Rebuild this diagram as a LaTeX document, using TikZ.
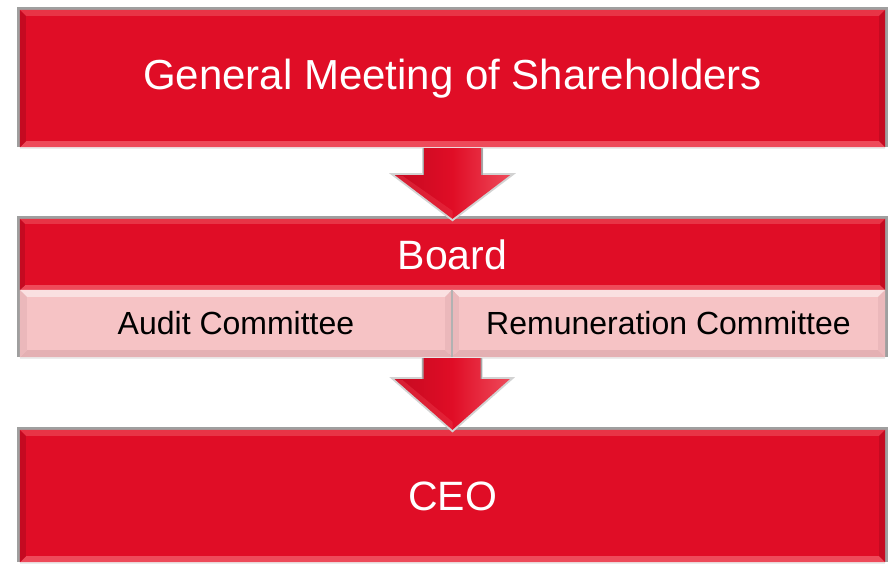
\documentclass[tikz,border=0pt]{standalone}
\usepackage{fontspec}
\setmainfont{Liberation Sans}
\usetikzlibrary{calc}
\definecolor{redM}{HTML}{E00D26}
\definecolor{redT}{HTML}{E83446}
\definecolor{redB}{HTML}{EE4A5A}
\definecolor{redS}{HTML}{C50A21}
\definecolor{pinkM}{HTML}{F6C3C5}
\definecolor{pinkT}{HTML}{FAE0E1}
\definecolor{pinkB}{HTML}{E4B0B3}
\definecolor{pinkS}{HTML}{EBB8BB}
\tikzset{
  redbox/.style={fill=redM, inner sep=0pt, text=white, font=\fontsize{42}{48}\selectfont},
  pinkbox/.style={fill=pinkM, inner sep=0pt, text=black, font=\fontsize{32}{38}\selectfont},
  frame/.style={draw=gray!75, line width=3pt},
  arrowglow/.style={draw=gray!35, line width=4pt, line join=miter},
}
% bevel: name, width, top, bottom, side
\newcommand\rsBevel[5]{%
  \fill[#3] (#1.north west) -- (#1.north east) -- ($(#1.north east)+(-#2,-#2)$) -- ($(#1.north west)+(#2,-#2)$) -- cycle;
  \fill[#4] (#1.south west) -- (#1.south east) -- ($(#1.south east)+(-#2,#2)$) -- ($(#1.south west)+(#2,#2)$) -- cycle;
  \fill[#5] (#1.north west) -- ($(#1.north west)+(#2,-#2)$) -- ($(#1.south west)+(#2,#2)$) -- (#1.south west) -- cycle;
  \fill[#5] (#1.north east) -- ($(#1.north east)+(-#2,-#2)$) -- ($(#1.south east)+(-#2,#2)$) -- (#1.south east) -- cycle;
}
\newcommand\rsFrame[1]{%
  \draw[frame] ($(#1.south west)+(-1.5pt,0pt)$) -- ($(#1.north west)+(-1.5pt,1.5pt)$) -- ($(#1.north east)+(1.5pt,1.5pt)$) -- ($(#1.south east)+(1.5pt,0pt)$);
  \draw[gray!15, line width=2pt] ($(#1.south west)+(0pt,-1pt)$) -- ($(#1.south east)+(0pt,-1pt)$);
}
% arrow from coordinate (top centre) to coordinate (tip)
\newcommand\rsArrow[3]{% top, tip, head start offset below top
  \path let \p1=(#1), \p2=(#2) in
    coordinate (s1) at (\x1-28.5pt,\y1) coordinate (s2) at (\x1+28.5pt,\y1)
    coordinate (h1) at (\x1-28.5pt,\y1-#3) coordinate (h2) at (\x1+28.5pt,\y1-#3)
    coordinate (w1) at (\x1-57.5pt,\y1-#3) coordinate (w2) at (\x1+57.5pt,\y1-#3)
    coordinate (tp) at (\x2,\y2);
  \draw[arrowglow] (s1) -- (h1) -- (w1) -- (tp) -- (w2) -- (h2) -- (s2);
  \draw[gray!70, line width=3pt] (s1) -- (h1);
  \draw[gray!70, line width=3pt] (s2) -- (h2);
  \shade[left color=redS, right color=redB, middle color=redM] (s1) -- (h1) -- (w1) -- (tp) -- (w2) -- (h2) -- (s2) -- cycle;
  \fill[redT, opacity=0.5] (w1) -- (tp) -- ($(tp)+(0pt,8pt)$) -- ($(w1)+(8pt,-1pt)$) -- cycle;
}
\begin{document}
\begin{tikzpicture}[x=1pt, y=-1pt]
\useasboundingbox (0,0) rectangle (891,565);
\fill[white] (0,0) rectangle (891,565);

\node[redbox, minimum width=865pt, minimum height=137pt] (gm) at (452.5,78.5) {};
\node[redbox, minimum width=865pt, minimum height=71pt] (board) at (452.5,254.5) {};
\node[pinkbox, minimum width=432pt, minimum height=67pt] (audit) at (236,323.5) {};
\node[pinkbox, minimum width=433pt, minimum height=67pt] (remu) at (668.5,323.5) {};
\node[redbox, minimum width=865pt, minimum height=132pt] (ceo) at (452.5,496) {};

\rsFrame{gm}
\rsFrame{board}
\rsFrame{audit}
\rsFrame{remu}
\rsFrame{ceo}

\rsBevel{gm}{6pt}{redT}{redB}{redS}
\rsBevel{board}{5pt}{redT}{redB}{redS}
\rsBevel{audit}{7pt}{pinkT}{pinkB}{pinkS}
\rsBevel{remu}{7pt}{pinkT}{pinkB}{pinkS}
\rsBevel{ceo}{6pt}{redT}{redB}{redS}
\draw[gray!60, line width=1.5pt] (audit.north east) -- (audit.south east);

\coordinate (a1top) at ($(gm.south)+(0pt,-1pt)$);
\coordinate (a2top) at ($(audit.south east)+(0pt,-1pt)$);
\rsArrow{a1top}{board.north}{27pt}
\rsArrow{a2top}{ceo.north}{21pt}

\node[text=white, font=\fontsize{42}{48}\selectfont] (gmt) at (gm.center) {General Meeting of Shareholders};
\node[text=white, font=\fontsize{41}{48}\selectfont] (bt) at (board.center) {Board};
\node[text=black, font=\fontsize{32}{38}\selectfont] (at) at (audit.center) {Audit Committee};
\node[text=black, font=\fontsize{32}{38}\selectfont] (rt) at (remu.center) {Remuneration Committee};
\node[text=white, font=\fontsize{41}{48}\selectfont] (ct) at (ceo.center) {CEO};
\end{tikzpicture}
\end{document}
